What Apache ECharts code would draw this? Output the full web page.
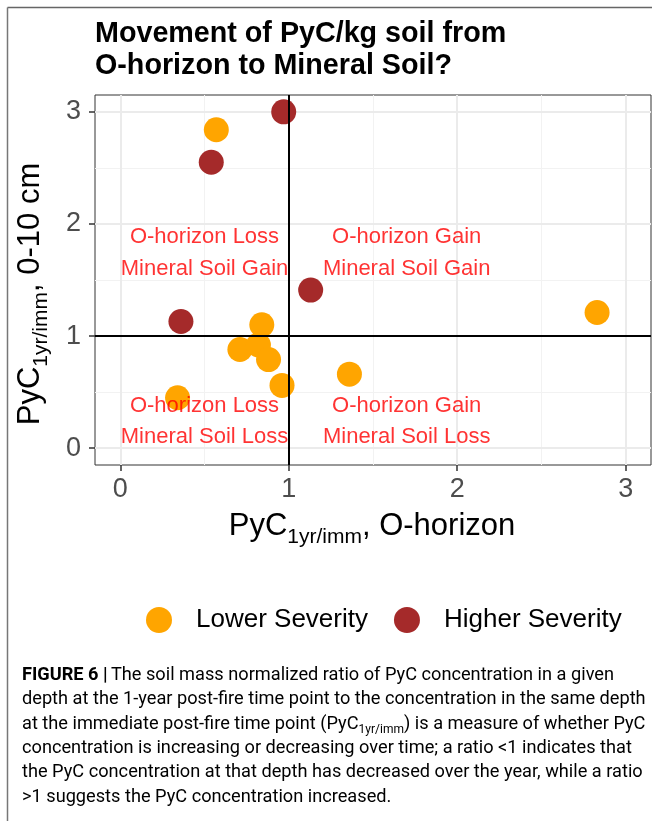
<!DOCTYPE html>
<html>
<head>
<meta charset="utf-8">
<script src="https://cdn.jsdelivr.net/npm/echarts@6/dist/echarts.min.js"></script>
<style>
html,body{margin:0;padding:0;background:#fff;}
#chart{width:652px;height:821px;}
</style>
</head>
<body>
<div id="chart"></div>
<script>
// ---- data ----
var lowerX = [0.57, 2.83, 0.84, 0.71, 0.82, 0.88, 0.96, 1.36, 0.34];
var lowerY = [2.84, 1.21, 1.10, 0.88, 0.92, 0.79, 0.56, 0.66, 0.45];
var higherX = [0.97, 0.54, 1.13, 0.36];
var higherY = [3.00, 2.55, 1.41, 1.13];
var xTicks = [0, 1, 2, 3];
var yTicks = [0, 1, 2, 3];
var xMinor = [0.5, 1.5, 2.5];
var yMinor = [0.5, 1.5, 2.5];
var refX = [1];
var refY = [1];
var noteX = [0.5, 0.5, 1.7, 1.7, 0.5, 0.5, 1.7, 1.7];
var noteY = [1.88, 1.6, 1.88, 1.6, 0.38, 0.1, 0.38, 0.1];
var noteText = ['O-horizon Loss', 'Mineral Soil Gain', 'O-horizon Gain', 'Mineral Soil Gain',
                'O-horizon Loss', 'Mineral Soil Loss', 'O-horizon Gain', 'Mineral Soil Loss'];
var seriesNames = ['Lower Severity', 'Higher Severity'];

var FONT = '"Liberation Sans", Arial, Helvetica, sans-serif';
var CAPFONT = 'Roboto, "Liberation Sans", sans-serif';
function zip(a, b) { return a.map(function (v, i) { return [v, b[i]]; }); }

var chart = echarts.init(document.getElementById('chart'), null, { renderer: 'canvas' });

var gridLineData = []
  .concat(xMinor.map(function (v) { return { xAxis: v, lineStyle: { color: '#F2F2F2', width: 1, type: 'solid' } }; }))
  .concat(yMinor.map(function (v) { return { yAxis: v, lineStyle: { color: '#F2F2F2', width: 1, type: 'solid' } }; }))
  .concat(xTicks.map(function (v) { return { xAxis: v, lineStyle: { color: '#EBEBEB', width: 2, type: 'solid' } }; }))
  .concat(yTicks.map(function (v) { return { yAxis: v, lineStyle: { color: '#EBEBEB', width: 2, type: 'solid' } }; }));

var refLineData = []
  .concat(refX.map(function (v) { return { xAxis: v }; }))
  .concat(refY.map(function (v) { return { yAxis: v }; }));

var caption =
  '{b|FIGURE 6 |} {n|The soil mass normalized ratio of PyC concentration in a given}\n' +
  '{n|depth at the 1-year post-fire time point to the concentration in the same depth}\n' +
  '{n|at the immediate post-fire time point (PyC}{s|1yr/imm}{n|) is a measure of whether PyC}\n' +
  '{n|concentration is increasing or decreasing over time; a ratio <1 indicates that}\n' +
  '{n|the PyC concentration at that depth has decreased over the year, while a ratio}\n' +
  '{n|>1 suggests the PyC concentration increased.}';

var option = {
  animation: false,
  backgroundColor: '#fff',
  title: {
    text: 'Movement of PyC/kg soil from\nO-horizon to Mineral Soil?',
    left: 95, top: 18, padding: 0,
    textStyle: { fontFamily: FONT, fontSize: 28.7, fontWeight: 'bold', color: '#000', lineHeight: 32 }
  },
  legend: {
    data: seriesNames,
    left: 146, top: 607, width: 505, padding: 0,
    orient: 'horizontal',
    icon: 'circle',
    itemWidth: 26, itemHeight: 26, itemGap: 26,
    selectedMode: false,
    textStyle: { fontFamily: FONT, fontSize: 26, color: '#000', padding: [0, 0, 0, 19] }
  },
  grid: {
    left: 95, top: 95, width: 556, height: 370,
    show: true, borderColor: '#333', borderWidth: 1, backgroundColor: '#fff'
  },
  xAxis: {
    type: 'value', min: -0.15, max: 3.15,
    axisLine: { show: false, onZero: false },
    axisTick: { show: true, customValues: xTicks, length: 6, lineStyle: { color: '#333', width: 1.5 } },
    axisLabel: { customValues: xTicks, fontFamily: FONT, fontSize: 27, color: '#4D4D4D', margin: 11 },
    splitLine: { show: false }
  },
  yAxis: {
    type: 'value', min: -0.15, max: 3.15,
    axisLine: { show: false, onZero: false },
    axisTick: { show: true, customValues: yTicks, length: 6, lineStyle: { color: '#333', width: 1.5 } },
    axisLabel: { customValues: yTicks, fontFamily: FONT, fontSize: 27, color: '#4D4D4D', margin: 14 },
    splitLine: { show: false }
  },
  graphic: [
    { type: 'line', shape: { x1: 7.5, y1: 7.5, x2: 652, y2: 7.5 }, style: { stroke: '#666', lineWidth: 1.5 }, silent: true },
    { type: 'line', shape: { x1: 7.5, y1: 7.5, x2: 7.5, y2: 821 }, style: { stroke: '#777', lineWidth: 1.5 }, silent: true },
    {
      type: 'text', x: 372, y: 526, silent: true,
      style: {
        text: '{m|PyC}{s|1yr/imm}{m|, O-horizon}',
        align: 'center', verticalAlign: 'middle',
        rich: {
          m: { fontFamily: FONT, fontSize: 31, color: '#000', lineHeight: 34 },
          s: { fontFamily: FONT, fontSize: 21, color: '#000', lineHeight: 44, verticalAlign: 'bottom' }
        }
      }
    },
    {
      type: 'text', x: 30, y: 294, rotation: Math.PI / 2, silent: true,
      style: {
        text: '{m|PyC}{s|1yr/imm}{m|, 0-10 cm}',
        align: 'center', verticalAlign: 'middle',
        rich: {
          m: { fontFamily: FONT, fontSize: 31, color: '#000', lineHeight: 34 },
          s: { fontFamily: FONT, fontSize: 21, color: '#000', lineHeight: 44, verticalAlign: 'bottom' }
        }
      }
    },
    {
      type: 'text', x: 22, y: 663, silent: true,
      style: {
        text: caption,
        align: 'left', verticalAlign: 'top',
        rich: {
          b: { fontFamily: CAPFONT, fontSize: 18.2, fontWeight: 'bold', color: '#222', lineHeight: 24.4 },
          n: { fontFamily: CAPFONT, fontSize: 18.2, color: '#222', lineHeight: 24.4 },
          s: { fontFamily: CAPFONT, fontSize: 12, color: '#222', lineHeight: 24.4, verticalAlign: 'bottom' }
        }
      }
    }
  ],
  series: [
    {
      name: 'grid', type: 'scatter', data: [], silent: true, z: 1,
      markLine: { silent: true, z: 1, symbol: 'none', label: { show: false }, animation: false, data: gridLineData,
                  emphasis: { disabled: true } }
    },
    {
      name: seriesNames[0], type: 'scatter', data: zip(lowerX, lowerY), z: 3,
      symbol: 'circle', symbolSize: 25, itemStyle: { color: '#FFA500', opacity: 1 }, emphasis: { disabled: true }
    },
    {
      name: seriesNames[1], type: 'scatter', data: zip(higherX, higherY), z: 3,
      symbol: 'circle', symbolSize: 25, itemStyle: { color: '#A52A2A', opacity: 1 }, emphasis: { disabled: true }
    },
    {
      name: 'ref', type: 'scatter', data: [], silent: true, z: 4,
      markLine: { silent: true, z: 4, symbol: 'none', label: { show: false }, animation: false, data: refLineData,
                  lineStyle: { color: '#000', width: 2, type: 'solid' }, emphasis: { disabled: true } }
    },
    {
      name: 'notes', type: 'scatter', z: 6, silent: true,
      data: noteX.map(function (x, i) { return [x, noteY[i], noteText[i]]; }),
      symbolSize: 1, itemStyle: { color: 'rgba(0,0,0,0)' },
      label: { show: true, position: 'inside', formatter: function (p) { return p.value[2]; },
               fontFamily: FONT, fontSize: 22, color: '#FF0000' }
    }
  ]
};
chart.setOption(option);
</script>
</body>
</html>
